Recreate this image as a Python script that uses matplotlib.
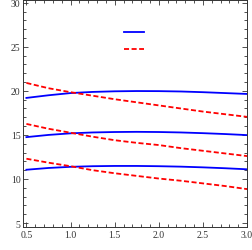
import matplotlib
matplotlib.use('Agg')
import matplotlib.pyplot as plt
from matplotlib.lines import Line2D
from matplotlib.ticker import MultipleLocator

# ___DATA___ #
X = [0.5, 0.75, 1.0, 1.25, 1.5, 1.75, 2.0, 2.25, 2.5, 2.75, 3.0]

BLUE_TOP = [19.2, 19.5, 19.75, 19.88, 19.95, 19.98, 19.97, 19.93, 19.85, 19.75, 19.65]
BLUE_MID = [14.75, 15.0, 15.18, 15.28, 15.33, 15.35, 15.33, 15.28, 15.2, 15.1, 14.98]
BLUE_LOW = [11.05, 11.25, 11.38, 11.45, 11.48, 11.48, 11.45, 11.4, 11.32, 11.22, 11.1]

RED_TOP = [20.9, 20.3, 19.85, 19.45, 19.05, 18.7, 18.35, 18.0, 17.65, 17.35, 17.05]
RED_MID = [16.25, 15.7, 15.25, 14.8, 14.4, 14.1, 13.85, 13.5, 13.2, 12.9, 12.6]
RED_LOW = [12.3, 11.85, 11.45, 11.0, 10.65, 10.35, 10.05, 9.8, 9.5, 9.2, 8.85]

X_TICKS = [0.5, 1.0, 1.5, 2.0, 2.5, 3.0]
Y_TICKS = [5, 10, 15, 20, 25, 30]

BLUE = '#0000ff'
RED = '#ff0000'
FRAME = '#333333'
LW = 1.3
DASH = (2.8, 1.4)

plt.rcParams['font.family'] = ['Liberation Serif', 'DejaVu Serif']

fig = plt.figure(figsize=(2.52, 2.51), dpi=100)
ax = fig.add_axes([0.0925, 0.0916, 0.888, 0.904])

for ys in (BLUE_TOP, BLUE_MID, BLUE_LOW):
    ax.plot(X, ys, color=BLUE, lw=LW)
for ys in (RED_TOP, RED_MID, RED_LOW):
    ax.plot(X, ys, color=RED, lw=LW, dashes=DASH)

ax.set_xlim(0.465, 3.0)
ax.set_ylim(4.55, 30.3)
ax.set_xticks(X_TICKS)
ax.set_xticklabels([f'{t:.1f}' for t in X_TICKS])
ax.set_yticks(Y_TICKS)
ax.xaxis.set_minor_locator(MultipleLocator(0.1))
ax.yaxis.set_minor_locator(MultipleLocator(1))
ax.tick_params(which='both', direction='in', top=True, right=True,
               colors=FRAME, labelsize=7, width=0.6, pad=2)
ax.tick_params(which='major', length=3.5)
ax.tick_params(which='minor', length=2)
for s in ax.spines.values():
    s.set_color(FRAME)
    s.set_linewidth(0.7)

handles = [Line2D([], [], color=BLUE, lw=LW),
           Line2D([], [], color=RED, lw=LW, dashes=DASH)]
ax.legend(handles, ['', ''], frameon=False, loc='upper left',
          bbox_to_anchor=(0.43, 0.895), fontsize=7, handlelength=2.06,
          labelspacing=0.76, handletextpad=0, borderpad=0)

fig.savefig('out.png', dpi=100)
